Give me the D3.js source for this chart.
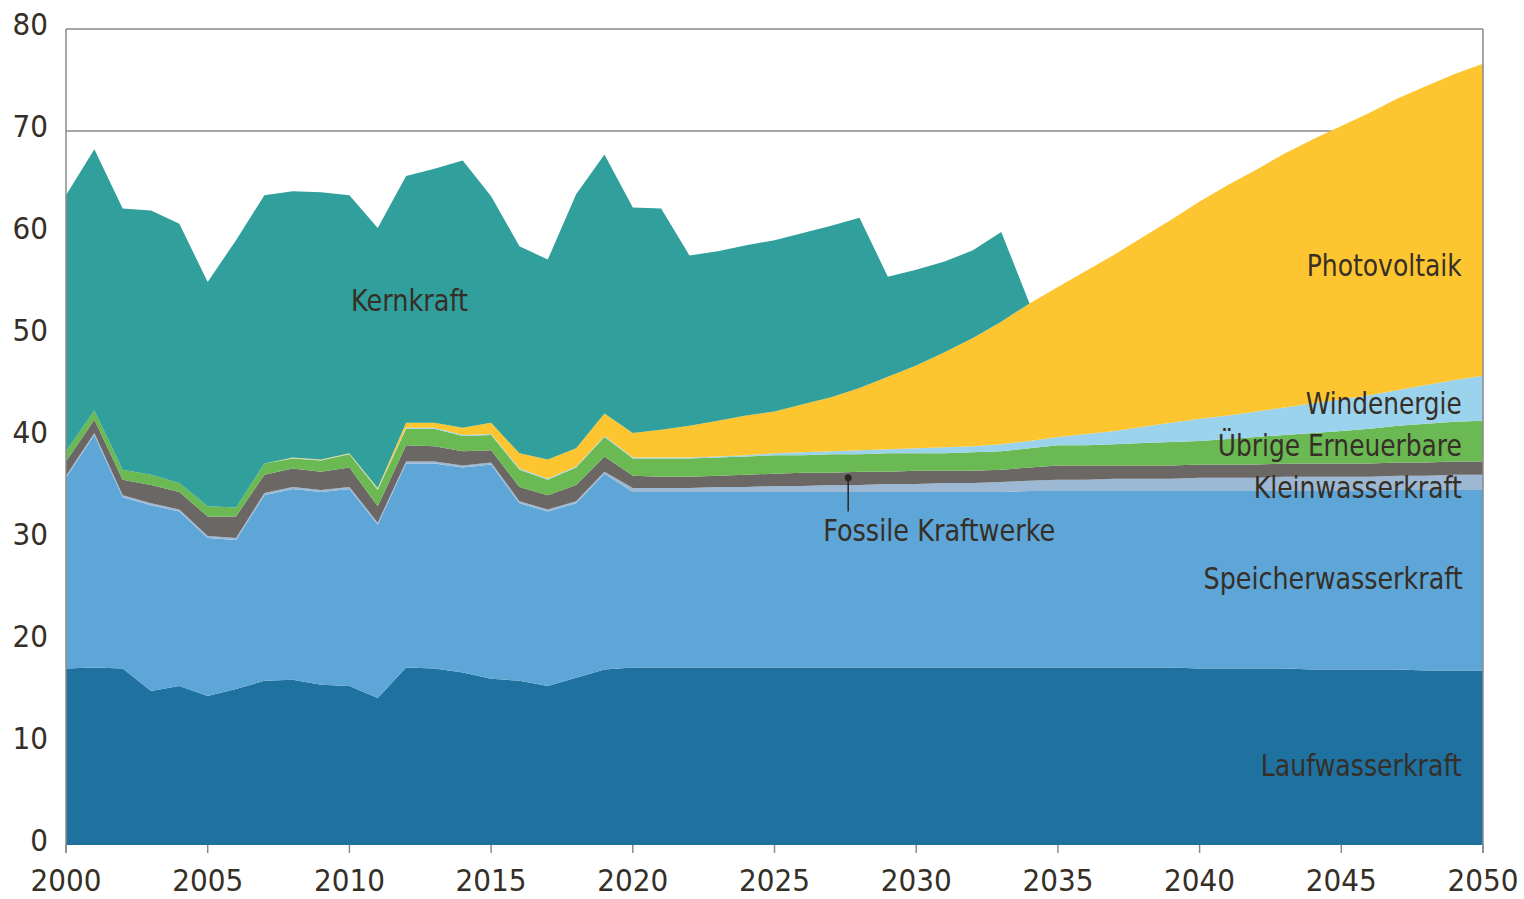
<!DOCTYPE html>
<html>
<head>
<meta charset="utf-8">
<script src="https://cdn.jsdelivr.net/npm/d3@7"></script>
<style>
  body { margin: 0; background: #ffffff; }
  text { font-family: "DejaVu Sans Condensed", "Liberation Sans Narrow", "Roboto", sans-serif; font-stretch: condensed; fill: #352f28; }
</style>
</head>
<body>
<script>
var years = d3.range(2000, 2051);
var lauf = [17.3, 17.4, 17.3, 15.1, 15.6, 14.6, 15.3, 16.1, 16.2, 15.7, 15.6, 14.4, 17.4, 17.3, 16.9, 16.3, 16.1, 15.6, 16.4, 17.2,
  17.4, 17.4, 17.4, 17.4, 17.4, 17.4, 17.4, 17.4, 17.4, 17.4, 17.4, 17.4, 17.4, 17.4, 17.4, 17.4, 17.4, 17.4, 17.4, 17.4,
  17.3, 17.3, 17.3, 17.3, 17.2, 17.2, 17.2, 17.2, 17.1, 17.1, 17.1];
var speicher = [18.7, 22.8, 16.8, 18.2, 17.1, 15.5, 14.6, 18.2, 18.7, 18.9, 19.3, 17.0, 20.0, 20.1, 20.1, 21.0, 17.4, 17.1, 17.1, 19.2,
  17.2, 17.2, 17.2, 17.2, 17.2, 17.2, 17.2, 17.2, 17.2, 17.2, 17.2, 17.2, 17.2, 17.2, 17.3, 17.3, 17.3, 17.3, 17.3, 17.3,
  17.4, 17.4, 17.4, 17.4, 17.5, 17.5, 17.5, 17.6, 17.7, 17.7, 17.7];
var klein = [0.2, 0.2, 0.2, 0.2, 0.2, 0.2, 0.2, 0.2, 0.2, 0.2, 0.2, 0.2, 0.2, 0.2, 0.2, 0.2, 0.2, 0.2, 0.2, 0.2,
  0.4, 0.4, 0.4, 0.5, 0.5, 0.6, 0.6, 0.7, 0.7, 0.8, 0.8, 0.9, 0.9, 1.0, 1.0, 1.1, 1.1, 1.2, 1.2, 1.2,
  1.3, 1.3, 1.3, 1.4, 1.4, 1.4, 1.4, 1.4, 1.4, 1.5, 1.5];
var fossil = [1.4, 1.3, 1.5, 1.8, 1.7, 1.9, 2.1, 1.8, 1.8, 1.8, 1.9, 1.6, 1.6, 1.5, 1.4, 1.2, 1.4, 1.4, 1.6, 1.5,
  1.2, 1.1, 1.1, 1.1, 1.2, 1.2, 1.3, 1.2, 1.3, 1.2, 1.3, 1.2, 1.2, 1.2, 1.3, 1.4, 1.4, 1.3, 1.3, 1.3,
  1.3, 1.3, 1.3, 1.3, 1.3, 1.3, 1.3, 1.3, 1.3, 1.3, 1.3];
var uebrige = [1.0, 0.9, 1.0, 1.0, 0.9, 1.0, 0.9, 1.1, 1.0, 1.1, 1.3, 1.6, 1.6, 1.7, 1.5, 1.5, 1.7, 1.5, 1.7, 1.9,
  1.7, 1.8, 1.8, 1.8, 1.8, 1.8, 1.7, 1.8, 1.7, 1.8, 1.7, 1.7, 1.8, 1.8, 1.9, 2.0, 2.0, 2.1, 2.2, 2.3,
  2.3, 2.5, 2.7, 2.8, 3.0, 3.2, 3.4, 3.6, 3.8, 3.9, 4.0];
var wind = [0, 0, 0, 0, 0, 0, 0, 0, 0.05, 0.05, 0.05, 0.1, 0.1, 0.1, 0.1, 0.1, 0.1, 0.1, 0.1, 0.1,
  0.1, 0.1, 0.1, 0.1, 0.1, 0.2, 0.3, 0.3, 0.4, 0.4, 0.5, 0.6, 0.6, 0.7, 0.7, 0.8, 1.1, 1.3, 1.6, 1.9,
  2.2, 2.3, 2.5, 2.7, 2.9, 3.1, 3.3, 3.5, 3.8, 4.1, 4.4];
var pv = [0, 0, 0, 0, 0, 0, 0, 0, 0.05, 0.05, 0.05, 0.1, 0.5, 0.5, 0.7, 1.1, 1.5, 1.9, 1.8, 2.2,
  2.4, 2.7, 3.1, 3.5, 3.9, 4.1, 4.7, 5.3, 6.1, 7.1, 8.1, 9.3, 10.6, 12.0, 13.5, 14.7, 16.0, 17.3, 18.6, 19.9,
  21.3, 22.6, 23.7, 24.9, 25.9, 26.8, 27.7, 28.6, 29.3, 30.0, 30.6];
var kern = [25.1, 25.6, 25.6, 25.9, 25.4, 22.0, 26.2, 26.3, 26.1, 26.2, 25.3, 25.5, 24.2, 24.9, 26.2, 22.2, 20.3, 19.6, 24.9, 25.4,
  22.1, 21.7, 16.7, 16.6, 16.7, 16.8, 16.8, 16.8, 16.7, 9.8, 9.4, 8.9, 8.6, 8.8, 0, 0, 0, 0, 0, 0,
  0, 0, 0, 0, 0, 0, 0, 0, 0, 0, 0];
var seriesNames = ["Laufwasserkraft", "Speicherwasserkraft", "Kleinwasserkraft", "Fossile Kraftwerke",
  "Übrige Erneuerbare", "Windenergie", "Photovoltaik", "Kernkraft"];
var seriesValues = [lauf, speicher, klein, fossil, uebrige, wind, pv, kern];
var colors = ["#1f71a0", "#5ea6d7", "#9db8d3", "#6b6765", "#6ab953", "#9bd3ec", "#fdc52f", "#31a09c"];
var yTicks = [0, 10, 20, 30, 40, 50, 60, 70, 80];
var gridValues = [70, 80];
var xTicks = [2000, 2005, 2010, 2015, 2020, 2025, 2030, 2035, 2040, 2045, 2050];

var width = 1524, height = 899;
var svg = d3.select("body").append("svg")
  .attr("width", width)
  .attr("height", height);

var x = d3.scaleLinear().domain([2000, 2050]).range([66, 1483]);
var y = d3.scaleLinear().domain([0, 80]).range([845, 29]);

var table = years.map(function (yr, i) {
  var row = { year: yr };
  for (var j = 0; j < seriesNames.length; j ++) {
    row[seriesNames[j]] = seriesValues[j][i];
  }
  return row;
});
var stacked = d3.stack().keys(seriesNames)(table);

// grid lines (only the upper ones show in the original)
svg.append("g").selectAll("line")
  .data(gridValues)
  .enter().append("line")
  .attr("x1", x(2000)).attr("x2", x(2050))
  .attr("y1", function (d) { return y(d); })
  .attr("y2", function (d) { return y(d); })
  .attr("stroke", "#8a8a8a")
  .attr("stroke-width", 1.5);

var area = d3.area()
  .x(function (d) { return x(d.data.year); })
  .y0(function (d) { return y(d[0]); })
  .y1(function (d) { return y(d[1]); });

svg.append("g").selectAll("path")
  .data(stacked)
  .enter().append("path")
  .attr("d", area)
  .attr("fill", function (d, i) { return colors[i]; });

// frame
svg.append("line").attr("x1", x(2000)).attr("x2", x(2000)).attr("y1", y(80)).attr("y2", y(0) + 8)
  .attr("stroke", "#8a8a8a").attr("stroke-width", 1.5);
svg.append("line").attr("x1", x(2050)).attr("x2", x(2050)).attr("y1", y(80)).attr("y2", y(0) + 8)
  .attr("stroke", "#8a8a8a").attr("stroke-width", 1.5);

var xAxis = svg.append("g").attr("transform", "translate(0," + y(0) + ")");
xAxis.selectAll("line")
  .data(xTicks)
  .enter().append("line")
  .attr("x1", function (d) { return x(d); })
  .attr("x2", function (d) { return x(d); })
  .attr("y1", 0).attr("y2", 8)
  .attr("stroke", "#8a8a8a").attr("stroke-width", 1.5);
xAxis.selectAll("text")
  .data(xTicks)
  .enter().append("text")
  .attr("x", function (d) { return x(d); })
  .attr("y", 46)
  .attr("text-anchor", "middle")
  .attr("font-size", 31)
  .text(function (d) { return d; });

svg.append("g").selectAll("text")
  .data(yTicks)
  .enter().append("text")
  .attr("x", 48)
  .attr("y", function (d) { return y(d) + 6; })
  .attr("text-anchor", "end")
  .attr("font-size", 31)
  .text(function (d) { return d; });

// series labels
var labels = [
  { name: "Kernkraft", at: [2010.06, 53.4], anchor: "start", w: 117 },
  { name: "Photovoltaik", at: [2049.25, 56.9], anchor: "end", w: 155 },
  { name: "Windenergie", at: [2049.25, 43.3], anchor: "end", w: 156 },
  { name: "Übrige Erneuerbare", at: [2049.25, 39.2], anchor: "end", w: 244 },
  { name: "Kleinwasserkraft", at: [2049.25, 35.1], anchor: "end", w: 208 },
  { name: "Speicherwasserkraft", at: [2049.28, 26.2], anchor: "end", w: 259 },
  { name: "Laufwasserkraft", at: [2049.25, 7.8], anchor: "end", w: 201 },
  { name: "Fossile Kraftwerke", at: [2026.72, 30.9], anchor: "start", w: 232 }
];
svg.append("g").selectAll("text")
  .data(labels)
  .enter().append("text")
  .attr("x", function (d) { return x(d.at[0]); })
  .attr("y", function (d) { return y(d.at[1]) + 11; })
  .attr("text-anchor", function (d) { return d.anchor; })
  .attr("font-size", 31)
  .attr("textLength", function (d) { return d.w; })
  .attr("lengthAdjust", "spacingAndGlyphs")
  .text(function (d) { return d.name; });

// leader for Fossile Kraftwerke
svg.append("line")
  .attr("x1", x(2027.6)).attr("x2", x(2027.6))
  .attr("y1", y(36.0)).attr("y2", y(32.7))
  .attr("stroke", "#2a2520").attr("stroke-width", 1.5);
svg.append("circle")
  .attr("cx", x(2027.6)).attr("cy", y(36.0)).attr("r", 3.5)
  .attr("fill", "#2a2520");
</script>
</body>
</html>
